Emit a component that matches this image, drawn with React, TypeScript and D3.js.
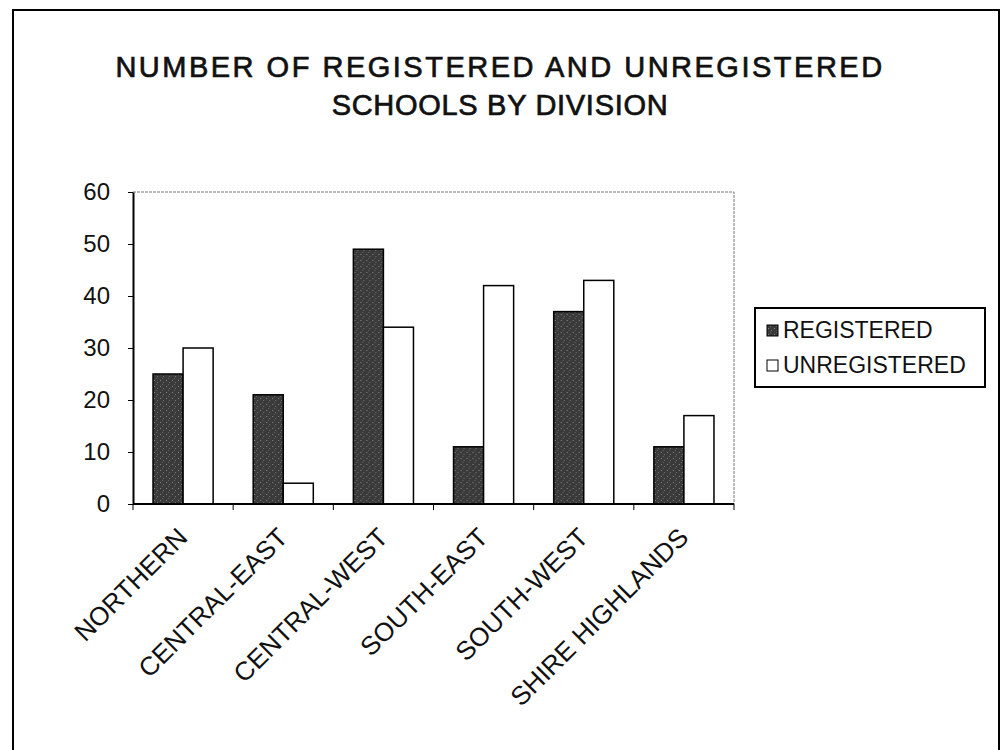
import React, { useRef, useEffect } from 'react';
import * as d3 from 'd3';

const divisions = ['NORTHERN', 'CENTRAL-EAST', 'CENTRAL-WEST', 'SOUTH-EAST', 'SOUTH-WEST', 'SHIRE HIGHLANDS'];
const registered = [25, 21, 49, 11, 37, 11];
const unregistered = [30, 4, 34, 42, 43, 17];
const seriesNames = ['REGISTERED', 'UNREGISTERED'];
const yTicks = [0, 10, 20, 30, 40, 50, 60];
const titleLines = ['NUMBER OF REGISTERED AND UNREGISTERED', 'SCHOOLS BY DIVISION'];

const W = 1001;
const H = 750;
const FONT = '"Liberation Sans", Arial, sans-serif';
const colors = ['#3a3a3a', '#ffffff'];

const App: React.FC = () => {
  const svgRef = useRef<SVGSVGElement>(null);

  useEffect(() => {
    if (!svgRef.current) return;
    const svg = d3.select(svgRef.current);
    svg.selectAll('*').remove();

    const plot = { left: 133, top: 192, right: 734, bottom: 504 };

    // outer frame
    svg.append('rect')
      .attr('x', 13).attr('y', 10)
      .attr('width', 986).attr('height', 760)
      .attr('fill', 'white')
      .attr('stroke', '#000').attr('stroke-width', 2);

    // speckle pattern for the dark bars
    const defs = svg.append('defs');
    const pat = defs.append('pattern')
      .attr('id', 'speckle')
      .attr('patternUnits', 'userSpaceOnUse')
      .attr('width', 6).attr('height', 6);
    pat.append('rect').attr('width', 6).attr('height', 6).attr('fill', colors[0]);
    pat.append('rect').attr('x', 1).attr('y', 2).attr('width', 1).attr('height', 1).attr('fill', '#8a8a8a');
    pat.append('rect').attr('x', 4).attr('y', 4).attr('width', 1).attr('height', 1).attr('fill', '#777');
    pat.append('rect').attr('x', 3).attr('y', 0).attr('width', 1).attr('height', 1).attr('fill', '#666');

    // title
    svg.append('text')
      .attr('x', 500).attr('y', 77)
      .attr('text-anchor', 'middle')
      .attr('font-family', FONT)
      .attr('font-size', 29)
      .attr('fill', '#111')
      .attr('stroke', '#111')
      .attr('stroke-width', 0.7)
      .selectAll('tspan')
      .data(titleLines)
      .enter()
      .append('tspan')
      .attr('x', 500)
      .attr('dy', (_d, i) => (i === 0 ? 0 : 38))
      .attr('letter-spacing', (_d, i) => (i === 0 ? 2.5 : 0.7))
      .text(d => d);

    const x0 = d3.scaleBand<string>()
      .domain(divisions)
      .range([plot.left, plot.right])
      .paddingInner(0.4)
      .paddingOuter(0.2);
    const x1 = d3.scaleBand<number>()
      .domain([0, 1])
      .range([0, x0.bandwidth()]);
    const xEdges = d3.scaleBand<string>()
      .domain(divisions)
      .range([plot.left, plot.right]);
    const y = d3.scaleLinear().domain([0, 60]).range([plot.bottom, plot.top]);

    // plot area border (top and right, light dotted)
    svg.append('path')
      .attr('d', `M${plot.left},${plot.top}H${plot.right}V${plot.bottom}`)
      .attr('fill', 'none')
      .attr('stroke', '#777')
      .attr('stroke-width', 1)
      .attr('stroke-dasharray', '3,1');

    // bars
    const groups = svg.append('g')
      .selectAll('g')
      .data(divisions)
      .enter()
      .append('g')
      .attr('transform', d => `translate(${x0(d)},0)`);

    groups.selectAll('rect')
      .data((_d, i) => [registered[i], unregistered[i]])
      .enter()
      .append('rect')
      .attr('x', (_v, j) => x1(j)!)
      .attr('y', v => y(v))
      .attr('width', x1.bandwidth())
      .attr('height', v => plot.bottom - y(v))
      .attr('fill', (_v, j) => (j === 0 ? 'url(#speckle)' : colors[1]))
      .attr('stroke', '#000')
      .attr('stroke-width', 1.5);

    // y axis
    const yAxis = svg.append('g')
      .attr('transform', `translate(${plot.left},0)`)
      .call(d3.axisLeft(y).tickValues(yTicks).tickSize(5).tickSizeOuter(0));
    yAxis.select('.domain').attr('stroke', '#000').attr('stroke-width', 2);
    yAxis.selectAll('.tick line').attr('stroke', '#000');
    yAxis.selectAll('.tick text')
      .attr('x', -23)
      .attr('font-family', FONT)
      .attr('font-size', 24)
      .attr('fill', '#111');

    // x axis
    const xAxis = svg.append('g')
      .attr('transform', `translate(0,${plot.bottom})`);
    xAxis.append('line')
      .attr('x1', plot.left).attr('x2', plot.right)
      .attr('stroke', '#000').attr('stroke-width', 2);
    const edges = divisions.map(d => xEdges(d)!).concat([plot.right]);
    xAxis.selectAll('.xtick')
      .data(edges)
      .enter()
      .append('line')
      .attr('x1', d => d).attr('x2', d => d)
      .attr('y1', 0).attr('y2', 6)
      .attr('stroke', '#000');
    xAxis.selectAll('.xlabel')
      .data(divisions)
      .enter()
      .append('text')
      .attr('transform', d => `translate(${xEdges(d)! + xEdges.bandwidth() / 2 + 6},${35}) rotate(-45)`)
      .attr('text-anchor', 'end')
      .attr('font-family', FONT)
      .attr('font-size', 26)
      .attr('fill', '#111')
      .text(d => d);

    // legend
    const legend = svg.append('g').attr('transform', 'translate(755,308)');
    legend.append('rect')
      .attr('width', 230).attr('height', 79)
      .attr('fill', 'white')
      .attr('stroke', '#000').attr('stroke-width', 2);
    const items = legend.selectAll('.item')
      .data(seriesNames)
      .enter()
      .append('g')
      .attr('transform', (_d, i) => `translate(12,${30 + i * 35})`);
    items.append('rect')
      .attr('x', 0).attr('y', -13)
      .attr('width', 11).attr('height', 11)
      .attr('fill', (_d, i) => (i === 0 ? 'url(#speckle)' : colors[1]))
      .attr('stroke', '#000').attr('stroke-width', 1);
    items.append('text')
      .attr('x', 16).attr('y', 0)
      .attr('font-family', FONT)
      .attr('font-size', 23)
      .attr('fill', '#111')
      .text(d => d);
  }, []);

  return (
    <svg
      ref={svgRef}
      width={W}
      height={H}
      style={{ position: 'absolute', left: 0, top: 0, background: 'white' }}
    />
  );
};

export default App;
